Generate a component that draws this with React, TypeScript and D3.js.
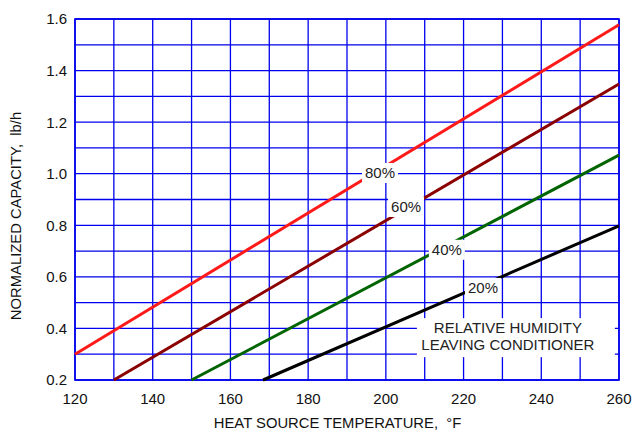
import React from "react";
import * as d3 from "d3";

const W = 637;
const H = 433;
const margin = { left: 75, right: 18, top: 19, bottom: 53 };

const xTicks = [120, 140, 160, 180, 200, 220, 240, 260];
const yTicks = [0.2, 0.4, 0.6, 0.8, 1.0, 1.2, 1.4, 1.6];
const xGrid = d3.range(120, 261, 10);
const yGrid = d3.range(2, 17).map((d) => d / 10);

const seriesNames = ["80%", "60%", "40%", "20%"];
const seriesColors = ["#ff1a1a", "#8b0000", "#006400", "#000000"];
const seriesStart = [
  [120, 0.3],
  [130, 0.2],
  [150, 0.2],
  [168.4, 0.2],
];
const seriesEnd = [
  [260, 1.578],
  [260, 1.348],
  [260, 1.072],
  [260, 0.798],
];
const labelX = [198.5, 205.2, 215.7, 225.0];
const labelY = [1.003, 0.871, 0.705, 0.557];

const noteLines = ["RELATIVE HUMIDITY", "LEAVING CONDITIONER"];
const noteX = 231.4;
const noteY = 0.372;

export default function App() {
  const x = d3.scaleLinear().domain([120, 260]).range([margin.left, W - margin.right]);
  const y = d3.scaleLinear().domain([0.2, 1.6]).range([H - margin.bottom, margin.top]);
  const line = d3
    .line<number[]>()
    .x((d) => x(d[0]))
    .y((d) => y(d[1]));
  const font = "'Liberation Sans', Arial, sans-serif";
  const x0 = x(120), x1 = x(260), y0 = y(0.2), y1 = y(1.6);

  return (
    <svg
      width={W}
      height={H}
      style={{ position: "absolute", left: 0, top: 0, background: "#fff" }}
      fontFamily={font}
    >
      <rect width={W} height={H} fill="#fff" />
      <g stroke="#0000ee" strokeWidth={1.3}>
        {xGrid.map((v) => (
          <line key={"gx" + v} x1={x(v)} x2={x(v)} y1={y1} y2={y0} />
        ))}
        {yGrid.map((v) => (
          <line key={"gy" + v} x1={x0} x2={x1} y1={y(v)} y2={y(v)} />
        ))}
      </g>
      <rect x={x0} y={y1} width={x1 - x0} height={y0 - y1} fill="none" stroke="#0000ee" strokeWidth={1.6} />
      {seriesNames.map((n, i) => (
        <path
          key={n}
          d={line([seriesStart[i], seriesEnd[i]]) || ""}
          stroke={seriesColors[i]}
          strokeWidth={3}
          fill="none"
        />
      ))}
      {seriesNames.map((n, i) => (
        <g key={"l" + n}>
          <rect x={x(labelX[i]) - 18} y={y(labelY[i]) - 10} width={36} height={20} fill="#fff" />
          <text
            x={x(labelX[i])}
            y={y(labelY[i])}
            dy="0.36em"
            textAnchor="middle"
            fontSize={15}
            fill="#222"
          >
            {n}
          </text>
        </g>
      ))}
      <g>
        <rect x={x(noteX) - 91} y={y(noteY) - 17.5} width={198} height={39} fill="#fff" />
        {noteLines.map((t, i) => (
          <text
            key={t}
            x={x(noteX)}
            y={y(noteY) - 8 + i * 16.5}
            dy="0.36em"
            textAnchor="middle"
            fontSize={15}
            fill="#222"
          >
            {t}
          </text>
        ))}
      </g>
      {xTicks.map((v) => (
        <text key={"xt" + v} x={x(v)} y={y0 + 24} textAnchor="middle" fontSize={15} fill="#111">
          {v}
        </text>
      ))}
      {yTicks.map((v) => (
        <text key={"yt" + v} x={x0 - 8} y={y(v)} dy="0.36em" textAnchor="end" fontSize={15} fill="#111">
          {v.toFixed(1)}
        </text>
      ))}
      <text
        x={337.5}
        y={428}
        textAnchor="middle"
        fontSize={14.8}
        fill="#111"
        style={{ whiteSpace: "pre" }}
      >
        {"HEAT SOURCE TEMPERATURE,  °F"}
      </text>
      <text
        transform={`translate(20.5,216) rotate(-90)`}
        textAnchor="middle"
        fontSize={14.8}
        fill="#111"
        style={{ whiteSpace: "pre" }}
      >
        {"NORMALIZED CAPACITY,  lb/h"}
      </text>
    </svg>
  );
}
